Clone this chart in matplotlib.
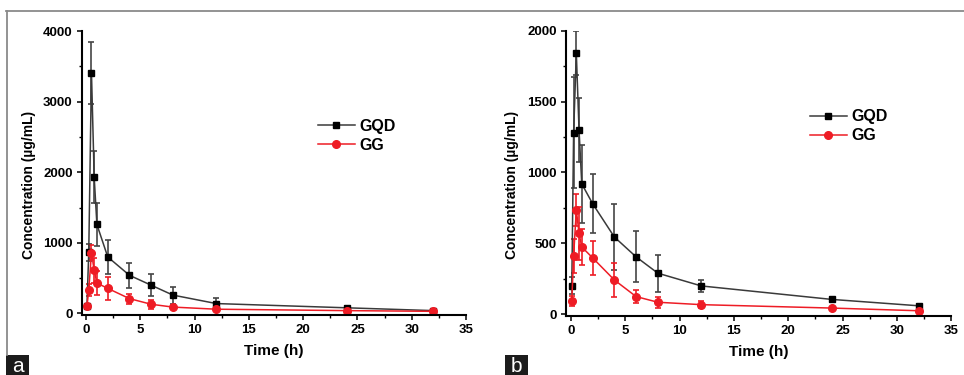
import matplotlib
matplotlib.use("Agg")
import matplotlib.pyplot as plt
from matplotlib.lines import Line2D
from matplotlib.patches import Rectangle
from matplotlib.ticker import MultipleLocator

plt.rcParams['font.family'] = ['Liberation Sans', 'DejaVu Sans']

# sampling times (h)
times = [0.083, 0.25, 0.5, 0.75, 1, 2, 4, 6, 8, 12, 24, 32]

# panel a
gqd_a = [110, 865, 3410, 1930, 1260, 800, 540, 400, 260, 140, 80, 40]
gqd_a_sd = [30, 125, 440, 370, 300, 245, 175, 160, 120, 75, 20, 15]
gg_a = [100, 330, 860, 610, 430, 355, 210, 130, 90, 60, 40, 30]
gg_a_sd = [20, 80, 105, 175, 175, 165, 70, 60, 30, 15, 10, 10]

# panel b
gqd_b = [200, 1280, 1840, 1300, 920, 780, 545, 405, 290, 200, 105, 60]
gqd_b_sd = [60, 390, 155, 225, 275, 210, 230, 180, 130, 40, 15, 15]
gg_b = [96, 412, 735, 570, 475, 398, 242, 125, 85, 68, 44, 25]
gg_b_sd = [35, 120, 110, 190, 130, 120, 120, 47, 40, 25, 10, 8]

black_line = '#3a3a3a'
black_err = '#454545'
red = '#ee1c25'

W, H = 964, 375
fig = plt.figure(figsize=(W / 100, H / 100), dpi=100)


def panel(rect, gqd, gqd_sd, gg, gg_sd, ylim, ymajor, xlim0, leg_anchor,
          ylab_xy):
    ax = fig.add_axes(rect)
    ax.errorbar(times, gqd, yerr=gqd_sd, fmt='-s', color=black_line,
                mfc='black', mec='black', ms=5, lw=1.1,
                ecolor=black_err, elinewidth=1.2, capsize=2.5, capthick=1.2)
    ax.errorbar(times, gg, yerr=gg_sd, fmt='-o', color=red,
                mfc=red, mec=red, ms=5.5, lw=1.1,
                ecolor=red, elinewidth=1.2, capsize=2.5, capthick=1.2)
    ax.set_xlim(xlim0, 35)
    ax.set_ylim(*ylim)
    ax.xaxis.set_major_locator(MultipleLocator(5))
    ax.xaxis.set_minor_locator(MultipleLocator(2.5))
    ax.yaxis.set_major_locator(MultipleLocator(ymajor))
    ax.yaxis.set_minor_locator(MultipleLocator(ymajor / 2))
    ax.spines['top'].set_visible(False)
    ax.spines['right'].set_visible(False)
    ax.spines['left'].set_bounds(ylim[0], ylim[1])
    ax.spines['bottom'].set_bounds(xlim0, 35)
    for s in ('left', 'bottom'):
        ax.spines[s].set_linewidth(1.5)
    ax.tick_params(which='major', direction='out', length=3.5, width=1.1,
                   labelsize=9.5, pad=3)
    ax.tick_params(which='minor', direction='out', length=2, width=1.0)
    for lab in ax.get_xticklabels() + ax.get_yticklabels():
        lab.set_fontweight('bold')
    ax.set_xlabel('Time (h)', fontsize=11, fontweight='bold', labelpad=6)
    ax.set_ylabel('Concentration (µg/mL)', fontsize=10, fontweight='bold')
    ax.yaxis.set_label_coords(*ylab_xy)
    handles = [Line2D([], [], color=black_line, lw=1.1, marker='s', ms=5,
                      mfc='black', mec='black'),
               Line2D([], [], color=red, lw=1.1, marker='o', ms=5.5,
                      mfc=red, mec=red)]
    leg = ax.legend(handles, ['GQD', 'GG'], loc='upper left',
                    bbox_to_anchor=leg_anchor, frameon=False,
                    fontsize=11.5, handlelength=2.3, handletextpad=0.3,
                    labelspacing=0.25, borderpad=0, borderaxespad=0,
                    numpoints=1)
    for t in leg.get_texts():
        t.set_fontweight('bold')
    return ax


panel([81.7 / W, 1 - 315 / H, 384.3 / W, 284 / H],
      gqd_a, gqd_a_sd, gg_a, gg_a_sd, (-22, 4000), 1000, -0.4,
      (0.615, 0.69), (-0.12, 0.458))
panel([566 / W, 1 - 316 / H, 385.3 / W, 285.3 / H],
      gqd_b, gqd_b_sd, gg_b, gg_b_sd, (-12, 2000), 500, -0.45,
      (0.633, 0.725), (-0.122, 0.459))

# frame lines and panel tags
fig.add_artist(Line2D([6 / W, 1], [1 - 10.5 / H, 1 - 10.5 / H],
                      transform=fig.transFigure, color='#8a8a8a', lw=1.3))
fig.add_artist(Line2D([6.5 / W, 6.5 / W], [1 - 10.5 / H, 20 / H],
                      transform=fig.transFigure, color='#8a8a8a', lw=1.3))
for x0, tag in ((6, 'a'), (505, 'b')):
    fig.add_artist(Rectangle((x0 / W, 0), 23 / W, 20 / H,
                             transform=fig.transFigure, color='#1c1c1c',
                             lw=0))
    fig.text((x0 + 11.5) / W, 9 / H, tag, color='white', fontsize=15,
             ha='center', va='center')

fig.savefig('out.png', dpi=100)
